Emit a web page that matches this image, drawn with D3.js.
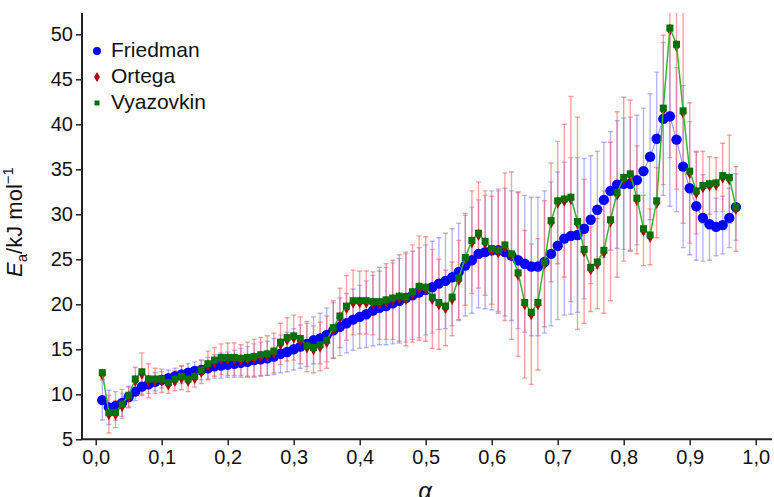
<!DOCTYPE html>
<html><head><meta charset="utf-8">
<script src="https://cdn.jsdelivr.net/npm/d3@7"></script>
<style>body{margin:0;background:#fff}svg{display:block}text{font-family:"Liberation Sans",Arial,sans-serif;fill:#111}</style>
</head><body>
<svg id="c" width="774" height="497"></svg>
<script>
const alpha = d3.range(1, 98).map(i => i / 100);
const friedman = [
 9.35, 8.55, 8.7, 9.05, 9.7, 10.3, 10.85, 11.1, 11.4, 11.6,
 11.8, 12.0, 12.2, 12.4, 12.6, 12.7, 12.9, 13.1, 13.2, 13.3,
 13.4, 13.5, 13.6, 13.8, 13.9, 14.0, 14.2, 14.5, 14.7, 15.0,
 15.3, 15.6, 16.0, 16.2, 16.6, 17.1, 17.5, 17.9, 18.3, 18.6,
 18.9, 19.3, 19.6, 19.8, 20.1, 20.4, 20.7, 21.0, 21.3, 21.6,
 21.9, 22.3, 22.6, 23.0, 23.6, 24.3, 24.9, 25.6, 25.8, 26.0,
 26.0, 25.8, 25.4, 24.9, 24.5, 24.2, 24.2, 24.7, 25.6, 26.5,
 27.3, 27.6, 27.7, 28.4, 29.4, 30.5, 31.6, 32.6, 33.3, 33.4,
 33.4, 33.8, 34.8, 36.4, 38.4, 40.6, 40.9, 38.3, 35.3, 32.9,
 30.9, 29.6, 28.9, 28.6, 28.8, 29.6, 30.8];
const friedmanErr = [
 2.2, 1.9, 1.6, 1.5, 1.2, 1.0, 1.0, 1.0, 1.0, 0.9,
 0.9, 0.9, 1.0, 1.0, 1.0, 1.1, 1.2, 1.3, 1.4, 1.4,
 1.5, 1.6, 1.7, 1.8, 1.9, 1.9, 2.0, 2.1, 2.2, 2.3,
 2.4, 2.5, 2.6, 2.8, 3.0, 3.1, 3.2, 3.3, 3.4, 3.5,
 3.7, 3.9, 4.1, 4.3, 4.5, 4.7, 4.9, 4.9, 5.0, 5.0,
 5.1, 5.1, 5.3, 5.4, 5.4, 5.6, 5.9, 6.0, 6.3, 6.6,
 6.8, 7.1, 7.2, 7.6, 7.6, 7.7, 7.7, 7.9, 8.0, 8.2,
 8.5, 8.7, 8.6, 7.8, 7.1, 6.5, 6.4, 6.6, 7.1, 7.3,
 7.4, 7.2, 7.0, 7.0, 7.4, 8.5, 10.0, 8.0, 9.0, 7.4,
 6.0, 4.8, 4.0, 3.2, 3.2, 3.3, 3.7];
const ortega = [
 12.2, 7.8, 7.8, 8.7, 9.7, 11.5, 12.3, 11.5, 11.5, 11.5,
 11.1, 11.5, 11.8, 11.5, 11.8, 12.5, 13.2, 13.6, 13.9, 13.9,
 13.9, 13.8, 13.9, 14.0, 14.2, 14.3, 14.6, 15.6, 16.1, 16.3,
 16.0, 15.2, 15.0, 15.3, 15.8, 17.2, 18.5, 19.6, 20.2, 20.2,
 20.2, 20.1, 20.1, 20.3, 20.5, 20.7, 20.6, 21.2, 21.8, 21.7,
 20.6, 20.0, 19.6, 20.6, 22.7, 25.0, 26.9, 27.7, 26.8, 26.0,
 25.8, 26.4, 25.4, 23.3, 20.0, 18.9, 20.0, 24.5, 29.1, 31.3,
 31.5, 31.7, 29.0, 25.9, 23.9, 24.5, 25.8, 29.2, 32.2, 33.9,
 34.3, 31.6, 28.2, 27.5, 31.3, 41.6, 50.5, 48.7, 41.3, 34.6,
 32.4, 33.0, 33.2, 33.3, 34.1, 33.9, 30.6];
const ortegaErr = [
 0.5, 2.1, 1.5, 1.4, 1.1, 1.5, 2.3, 1.9, 1.4, 1.3,
 1.0, 1.1, 1.3, 1.2, 1.0, 1.3, 1.6, 1.6, 1.7, 1.8,
 1.8, 1.7, 1.9, 2.1, 2.1, 2.2, 2.2, 2.3, 2.4, 2.5,
 2.6, 2.7, 2.6, 2.7, 2.9, 3.2, 3.3, 3.6, 3.6, 3.5,
 3.5, 3.5, 4.0, 4.2, 4.4, 4.8, 5.2, 5.4, 5.8, 5.8,
 5.5, 5.0, 4.2, 4.1, 4.4, 5.1, 5.7, 5.9, 5.8, 6.0,
 6.8, 8.2, 9.3, 9.1, 8.2, 7.8, 7.3, 7.0, 6.6, 6.8,
 8.5, 11.4, 11.8, 8.0, 4.7, 5.0, 6.8, 8.8, 9.2, 9.1,
 8.4, 6.0, 3.9, 3.1, 3.9, 8.3, 14.2, 15.9, 12.3, 7.8,
 4.6, 4.0, 3.2, 3.0, 3.8, 4.9, 4.7];
const vyazovkin = [
 12.4, 7.95, 8.0, 8.9, 9.9, 11.7, 12.5, 11.7, 11.7, 11.7,
 11.3, 11.7, 12.0, 11.7, 12.0, 12.7, 13.4, 13.8, 14.1, 14.1,
 14.1, 14.0, 14.1, 14.2, 14.4, 14.5, 14.8, 15.8, 16.3, 16.5,
 16.2, 15.4, 15.2, 15.5, 16.0, 17.4, 18.7, 19.8, 20.4, 20.4,
 20.4, 20.3, 20.3, 20.5, 20.7, 20.9, 20.8, 21.4, 22.0, 21.9,
 20.8, 20.2, 19.8, 20.8, 22.9, 25.2, 27.1, 27.9, 27.0, 26.2,
 26.0, 26.6, 25.6, 23.5, 20.2, 19.1, 20.2, 24.7, 29.3, 31.5,
 31.7, 31.9, 29.2, 26.1, 24.1, 24.7, 26.0, 29.4, 32.4, 34.1,
 34.5, 31.8, 28.4, 27.7, 31.5, 41.8, 50.7, 48.9, 41.5, 34.8,
 32.6, 33.2, 33.4, 33.5, 34.3, 34.1, 30.8];
const xTicks = [0, 0.1, 0.2, 0.3, 0.4, 0.5, 0.6, 0.7, 0.8, 0.9, 1.0];
const yTicks = [5, 10, 15, 20, 25, 30, 35, 40, 45, 50];
const seriesNames = ["Friedman", "Ortega", "Vyazovkin"];

const svg = d3.select("#c");
const L = 82, R = 772, T = 13, B = 439.3;
const x = d3.scaleLinear().domain([0, 1]).range([95.7, 755.7]);
const y = d3.scaleLinear().domain([5, 52.37]).range([B, T]);
const fmt = v => d3.format(".1f")(v).replace(".", ",");

svg.append("defs").append("clipPath").attr("id", "clip")
  .append("rect").attr("x", L).attr("y", T).attr("width", R - L).attr("height", B - T);
const plot = svg.append("g").attr("clip-path", "url(#clip)");

function errBars(vals, errs, color) {
  const g = plot.append("g").attr("stroke", color).attr("stroke-width", 1.4).attr("fill", "none");
  alpha.forEach((a, i) => {
    const cx = x(a), y1 = y(vals[i] + errs[i]), y2 = y(vals[i] - errs[i]);
    g.append("line").attr("x1", cx).attr("x2", cx).attr("y1", y1).attr("y2", y2);
    g.append("line").attr("x1", cx - 2.5).attr("x2", cx + 2.5).attr("y1", y1).attr("y2", y1);
    g.append("line").attr("x1", cx - 2.5).attr("x2", cx + 2.5).attr("y1", y2).attr("y2", y2);
  });
}
errBars(friedman, friedmanErr, "rgba(110,110,255,0.5)");
errBars(ortega, ortegaErr, "rgba(255,85,85,0.55)");

const line = d3.line().x((d, i) => x(alpha[i])).y(d => y(d));
plot.append("path").datum(friedman).attr("d", line).attr("fill", "none")
  .attr("stroke", "#9a9aff").attr("stroke-width", 1.2);
plot.append("g").selectAll("circle").data(friedman).join("circle")
  .attr("cx", (d, i) => x(alpha[i])).attr("cy", d => y(d)).attr("r", 5.2).attr("fill", "#0000ff");

plot.append("g").selectAll("path").data(ortega).join("path")
  .attr("d", d3.symbol().type(d3.symbolDiamond).size(42))
  .attr("transform", (d, i) => `translate(${x(alpha[i])},${y(d)})`).attr("fill", "#b00000");

plot.append("path").datum(vyazovkin).attr("d", line).attr("fill", "none")
  .attr("stroke", "#2db82d").attr("stroke-width", 1.5);
plot.append("g").selectAll("rect").data(vyazovkin).join("rect")
  .attr("x", (d, i) => x(alpha[i]) - 3.5).attr("y", d => y(d) - 3.5)
  .attr("width", 7).attr("height", 7).attr("fill", "#087008");

// axes
const xa = svg.append("g").attr("transform", `translate(0,${B})`)
  .call(d3.axisBottom(x).tickValues(xTicks).tickFormat(fmt).tickSize(6).tickPadding(5));
const ya = svg.append("g").attr("transform", `translate(${L},0)`)
  .call(d3.axisLeft(y).tickValues(yTicks).tickFormat(d3.format("d")).tickSize(6).tickPadding(3));
[xa, ya].forEach(g => {
  g.select(".domain").remove();
  g.selectAll(".tick line").attr("stroke", "#222").attr("stroke-width", 1.5);
  g.selectAll(".tick text").attr("font-size", 20).attr("font-family", "Liberation Sans, Arial, sans-serif").attr("fill", "#111");
});
svg.append("line").attr("x1", L).attr("x2", R).attr("y1", B).attr("y2", B).attr("stroke", "#222").attr("stroke-width", 2);
svg.append("line").attr("x1", L).attr("x2", L).attr("y1", T).attr("y2", B).attr("stroke", "#222").attr("stroke-width", 2);

// axis titles
svg.append("text").attr("x", (L + R) / 2 - 2).attr("y", 499).attr("text-anchor", "middle")
  .attr("font-size", 24).attr("font-style", "italic").text("α");
const yl = svg.append("text").attr("transform", "translate(22,222) rotate(-90)")
  .attr("text-anchor", "middle").attr("font-size", 22);
yl.append("tspan").attr("font-style", "italic").text("E");
yl.append("tspan").attr("font-size", 15).attr("dy", 5).text("a");
yl.append("tspan").attr("dy", -5).text("/kJ mol");
yl.append("tspan").attr("font-size", 15).attr("dy", -9).text("−1");

// legend
const lg = svg.append("g");
const rows = [57, 83, 109];
lg.append("circle").attr("cx", 97).attr("cy", rows[0] - 6).attr("r", 4).attr("fill", "#0000ff");
lg.append("path").attr("d", d3.symbol().type(d3.symbolDiamond).size(30)).attr("transform", `translate(97,${rows[1] - 6})`).attr("fill", "#b00000");
lg.append("rect").attr("x", 94.5).attr("y", rows[2] - 8.5).attr("width", 5).attr("height", 5).attr("fill", "#087008");
seriesNames.forEach((n, i) => lg.append("text").attr("x", 111).attr("y", rows[i]).attr("font-size", 21).text(n));
</script>
</body></html>
